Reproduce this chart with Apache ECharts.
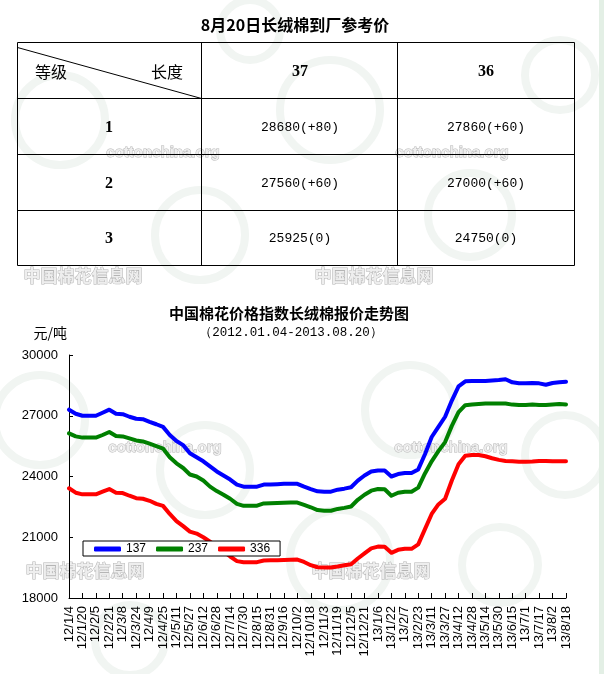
<!DOCTYPE html>
<html>
<head>
<meta charset="utf-8">
<script src="https://cdn.jsdelivr.net/npm/echarts@6/dist/echarts.min.js"></script>
<style>
html,body{margin:0;padding:0;background:#fff;}
#chart{width:604px;height:674px;}
</style>
</head>
<body>
<div id="chart"></div>
<script>
// ---- table data ----
var tableTitle = '8月20日长绒棉到厂参考价';
var cornerLeft = '等级';
var cornerRight = '长度';
var lengthHeaders = ['37', '36'];
var gradeLabels = ['1', '2', '3'];
var prices37 = ['28680(+80)', '27560(+60)', '25925(0)'];
var prices36 = ['27860(+60)', '27000(+60)', '24750(0)'];

// ---- chart data ----
var chartTitle = '中国棉花价格指数长绒棉报价走势图';
var chartSubtitle = '（2012.01.04-2013.08.20）';
var unitName = '元/吨';
var seriesNames = ['137', '237', '336'];
var categories = [
  '12/1/4','12/1/12','12/1/20','12/1/28','12/2/5','12/2/13','12/2/21','12/2/29',
  '12/3/8','12/3/16','12/3/24','12/4/1','12/4/9','12/4/17','12/4/25','12/5/3',
  '12/5/11','12/5/19','12/5/27','12/6/4','12/6/12','12/6/20','12/6/28','12/7/6',
  '12/7/14','12/7/22','12/7/30','12/8/7','12/8/15','12/8/23','12/8/31','12/9/8',
  '12/9/16','12/9/24','12/10/2','12/10/10','12/10/18','12/10/26','12/11/3','12/11/11',
  '12/11/19','12/11/27','12/12/5','12/12/13','12/12/21','12/12/29','13/1/6','13/1/14',
  '13/1/22','13/1/30','13/2/7','13/2/15','13/2/23','13/3/3','13/3/11','13/3/19',
  '13/3/27','13/4/4','13/4/12','13/4/20','13/4/28','13/5/6','13/5/14','13/5/22',
  '13/5/30','13/6/7','13/6/15','13/6/23','13/7/1','13/7/9','13/7/17','13/7/25',
  '13/8/2','13/8/10','13/8/18'
];
var values137 = [
  27300,27100,27000,27000,27000,27150,27300,27100,27080,26950,
  26850,26830,26700,26580,26450,26050,25750,25550,25150,24950,
  24750,24500,24250,24050,23850,23600,23500,23500,23500,23600,
  23600,23620,23640,23640,23640,23500,23380,23270,23250,23250,
  23350,23400,23470,23800,24050,24250,24300,24300,24000,24120,
  24170,24170,24350,25100,25950,26450,26950,27750,28450,28700,
  28720,28720,28720,28740,28760,28800,28650,28600,28600,28620,
  28600,28530,28620,28650,28680
];
var values237 = [
  26130,25980,25920,25920,25920,26050,26200,26000,25980,25880,
  25780,25730,25620,25500,25380,24950,24650,24420,24100,24000,
  23800,23500,23280,23100,22900,22650,22550,22560,22560,22670,
  22680,22690,22700,22710,22710,22600,22480,22340,22310,22310,
  22400,22450,22520,22850,23100,23300,23380,23370,23050,23200,
  23250,23250,23450,24150,24750,25250,25700,26500,27180,27520,
  27560,27580,27600,27600,27610,27600,27550,27530,27530,27550,
  27530,27530,27560,27580,27560
];
var values336 = [
  23420,23200,23120,23120,23120,23250,23380,23200,23180,23050,
  22930,22900,22800,22650,22550,22150,21800,21550,21280,21180,
  21000,20780,20550,20300,20050,19820,19770,19770,19770,19850,
  19860,19870,19880,19890,19900,19780,19620,19520,19510,19510,
  19560,19620,19670,19950,20200,20450,20540,20530,20230,20380,
  20430,20430,20650,21400,22150,22620,22900,23800,24600,25020,
  25060,25060,25000,24900,24820,24770,24750,24730,24730,24740,
  24770,24770,24750,24750,24750
];
var yMin = 18000, yMax = 30000, yStep = 3000;

var CJK = '"Noto Sans CJK SC", sans-serif';
var SANS = '"Liberation Sans", Arial, sans-serif';
var MONO = '"Liberation Mono", monospace';
var SERIF = '"Liberation Serif", serif';

// ---- background decoration ----
var g = [];
var rings = [[60,120,45],[330,110,50],[470,215,42],[200,235,45],[560,75,35],
  [40,420,45],[205,470,45],[340,560,50],[500,565,38],[565,455,40],[130,640,35],[410,410,45],[250,30,30]];
rings.forEach(function (r) {
  g.push({type:'circle', z:-10, silent:true, shape:{cx:r[0], cy:r[1], r:r[2]},
    style:{fill:'none', stroke:'#f1f5f2', lineWidth:8}});
});
g.push({type:'rect', z:-10, silent:true, shape:{x:599, y:0, width:5, height:674}, style:{fill:'#e3efe5'}});

function wm(text, x, y, font) {
  g.push({type:'text', z:-5, silent:true, x:x, y:y,
    style:{text:text, font:font, fill:'#eeeeee', stroke:'#b5b5b5', lineWidth:1, align:'center', verticalAlign:'middle'}});
}
['cottonchina.org'].forEach(function (t) {
  wm(t, 163, 153, 'bold 15px ' + SANS); wm(t, 452, 153, 'bold 15px ' + SANS);
  wm(t, 165, 448, 'bold 15px ' + SANS); wm(t, 451, 448, 'bold 15px ' + SANS);
});
['中国棉花信息网'].forEach(function (t) {
  wm(t, 83, 276, 'bold 17px ' + CJK); wm(t, 374, 276, 'bold 17px ' + CJK);
  wm(t, 85, 571, 'bold 17px ' + CJK); wm(t, 371, 571, 'bold 17px ' + CJK);
});

// ---- table ----
function txt(text, x, y, font, align) {
  g.push({type:'text', z:10, x:x, y:y,
    style:{text:text, font:font, fill:'#000', align:align || 'center', verticalAlign:'middle'}});
}
function ln(x1, y1, x2, y2) {
  g.push({type:'line', z:10, shape:{x1:x1, y1:y1, x2:x2, y2:y2}, style:{stroke:'#000', lineWidth:1}});
}
txt(tableTitle, 295, 25, 'bold 16px ' + CJK);
var tL = 17.5, tR = 574.5, tT = 42.5, tB = 265.5;
var colX = [tL, 201.5, 397.5, tR];
var rowY = [tT, 98.5, 154.5, 210.5, tB];
g.push({type:'rect', z:10, shape:{x:tL, y:tT, width:tR - tL, height:tB - tT}, style:{fill:'none', stroke:'#000', lineWidth:1}});
colX.slice(1, 3).forEach(function (x) { ln(x, tT, x, tB); });
rowY.slice(1, 4).forEach(function (y) { ln(tL, y, tR, y); });
ln(tL, 47.5, 201.5, 98.5);
txt(cornerLeft, 35, 72, '16px ' + CJK, 'left');
txt(cornerRight, 151, 72, '16px ' + CJK, 'left');
txt(lengthHeaders[0], 300, 72, 'bold 16px ' + SERIF);
txt(lengthHeaders[1], 486, 72, 'bold 16px ' + SERIF);
var rowCY = [128, 184, 239];
gradeLabels.forEach(function (lab, i) {
  txt(lab, 109, rowCY[i], 'bold 16px ' + SERIF);
  txt(prices37[i], 300, rowCY[i], '13px ' + MONO);
  txt(prices36[i], 486, rowCY[i], '13px ' + MONO);
});

// ---- chart titles ----
txt(chartTitle, 289, 313, 'bold 15px ' + CJK);
g.push({type:'text', z:10, x:291, y:333,
  style:{text:chartSubtitle, font:'12.5px ' + MONO, fill:'#000', align:'center', verticalAlign:'middle'}});

var colors = ['#0000ff', '#008000', '#ff0000'];
var dataSets = [values137, values237, values336];

var chart = echarts.init(document.getElementById('chart'), null, {renderer:'canvas'});
chart.setOption({
  animation: false,
  backgroundColor: '#fff',
  graphic: g,
  grid: {left: 69, top: 355, width: 497, height: 243, containLabel: false},
  legend: {
    left: 83, top: 541,
    padding: [2, 10, 1, 11],
    itemGap: 10, itemWidth: 27, itemHeight: 5,
    icon: 'roundRect',
    backgroundColor: '#fff', borderColor: '#000', borderWidth: 1,
    textStyle: {fontSize: 12, color: '#000', fontFamily: SANS},
    data: seriesNames
  },
  xAxis: {
    type: 'category',
    data: categories,
    boundaryGap: false,
    axisLine: {lineStyle: {color: '#000', width: 1}},
    axisTick: {inside: true, length: 5, interval: 1, lineStyle: {color: '#000'}},
    axisLabel: {interval: 1, rotate: 90, margin: 8, fontSize: 13, color: '#000', fontFamily: SANS},
    splitLine: {show: false}
  },
  yAxis: {
    type: 'value',
    min: yMin, max: yMax, interval: yStep,
    name: unitName,
    nameLocation: 'end',
    nameGap: 15,
    nameTextStyle: {fontSize: 14, color: '#000', fontFamily: CJK, align: 'right', padding: [0, 2, 0, 0]},
    axisLine: {show: true, lineStyle: {color: '#000', width: 1}},
    axisTick: {show: true, inside: true, length: 4, lineStyle: {color: '#000'}},
    axisLabel: {margin: 11, fontSize: 13, color: '#000', fontFamily: SANS,
      formatter: function (v) { return String(v); }},
    splitLine: {show: false}
  },
  series: seriesNames.map(function (n, i) {
    return {
      name: n, type: 'line', data: dataSets[i],
      showSymbol: false, symbol: 'none',
      color: colors[i],
      lineStyle: {color: colors[i], width: 4, join: 'round', cap: 'round'},
      z: 3
    };
  })
});
</script>
</body>
</html>
